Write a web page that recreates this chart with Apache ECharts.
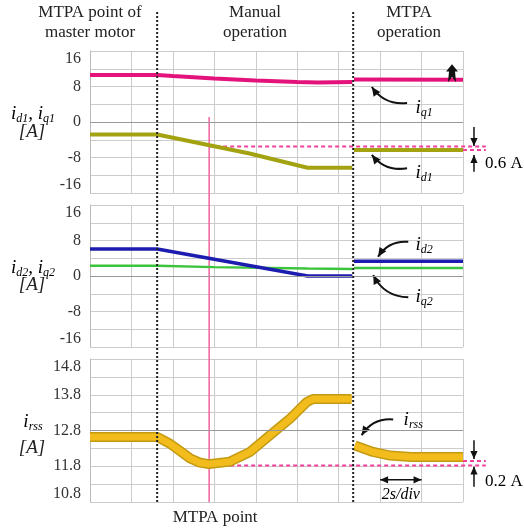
<!DOCTYPE html>
<html>
<head>
<meta charset="utf-8">
<script src="https://cdn.jsdelivr.net/npm/echarts/dist/echarts.min.js"></script>
<style>
  html, body { margin: 0; padding: 0; background: #fff; }
  #chart { width: 524px; height: 532px; }
</style>
</head>
<body>
<div id="chart"></div>
<script>
// time in seconds (2 s/div, 9 divisions shown)
const tMaster = 3.24;  // end of "MTPA point of master motor"
const tMtpa = 12.7;    // start of "MTPA operation"
const tPoint = 5.75;   // MTPA point

// a null value marks the switch-over gap at tMtpa
const iq1 = [[0, 10.6], [3.24, 10.6], [4, 10.35], [6, 9.8], [8, 9.35], [10, 9.0], [11, 8.9], [12.66, 9.0], [12.7, null], [12.74, 9.6], [18, 9.5]];
const id1 = [[0, -2.8], [3.24, -2.8], [7.7, -7.1], [10.5, -10.3], [12.66, -10.3], [12.7, null], [12.74, -6.3], [18, -6.3]];
const id2 = [[0, 6.1], [3.24, 6.1], [10.5, 0], [12.66, 0], [12.7, null], [12.74, 3.3], [18, 3.3]];
const iq2 = [[0, 2.3], [3.24, 2.3], [6, 2.0], [10.5, 1.7], [12.66, 1.6], [12.7, null], [12.74, 1.8], [18, 1.8]];
const irss = [[0, 12.62], [3.24, 12.62], [3.86, 12.43], [4.34, 12.23], [4.83, 12.02], [5.3, 11.9], [5.74, 11.86],
  [6.76, 11.93], [7.72, 12.2], [8.69, 12.67], [9.65, 13.13], [10.47, 13.6], [10.76, 13.68], [12.62, 13.68],
  [12.7, null], [12.78, 12.38], [13.66, 12.2], [14.48, 12.1], [15.5, 12.06], [18, 12.06]];

const ticksI = [16, 8, 0, -8, -16];
const ticksRss = [14.8, 13.8, 12.8, 11.8, 10.8];

// dashed reference levels: [panel, from t, to t, value]
const refLines = [[0, tPoint, 19.1, -5.5], [0, 18, 19.1, -6.3], [2, tPoint, 19.1, 11.82], [2, 18, 19.1, 11.95]];

// curved pointer arrows: [panel, tail, tip, curveness]
const pointers = [
  [0, [15.3, 4.3], [13.6, 7.9], 0.3],
  [0, [15.3, -10.4], [13.6, -7.4], 0.3],
  [1, [15.36, 7.7], [13.9, 4.35], -0.3],
  [1, [15.36, -4.8], [13.67, 0.2], 0.3],
  [2, [14.63, 13.11], [13.11, 12.67], -0.3]
];
// straight arrows: [panel, tail, tip, double]
const straight = [
  [0, [18.53, -1.1], [18.53, -5.4], false],
  [0, [18.53, -11.2], [18.53, -7.45], false],
  [2, [18.53, 12.53], [18.53, 12.0], false],
  [2, [18.53, 11.23], [18.53, 11.79], false],
  [2, [14, 11.42], [16, 11.42], true]
];
// labels tied to data: [panel, t, value, rich text, align]
const curveLabels = [
  [0, 16.12, 3.1, '{i|i}{s|q1}', 'center'],
  [0, 16.12, -11.5, '{i|i}{s|d1}', 'center'],
  [1, 16.12, 7.0, '{i|i}{s|d2}', 'center'],
  [1, 16.12, -4.7, '{i|i}{s|q2}', 'center'],
  [2, 15.6, 13.09, '{i|i}{s|rss}', 'center'],
  [0, 19.06, -9.25, '{n|0.6 A}', 'left'],
  [2, 19.06, 11.36, '{n|0.2 A}', 'left'],
  [2, 15.0, 11.0, '{e|2s/div}', 'center']
];

const serif = '"Liberation Serif", "DejaVu Serif", serif';
const rich = {
  i: { fontFamily: serif, fontStyle: 'italic', fontSize: 19, lineHeight: 22, verticalAlign: 'middle', color: '#222' },
  s: { fontFamily: serif, fontStyle: 'italic', fontSize: 12, lineHeight: 12, verticalAlign: 'bottom', color: '#222' },
  n: { fontFamily: serif, fontSize: 17, lineHeight: 22, color: '#222' },
  e: { fontFamily: serif, fontStyle: 'italic', fontSize: 16, lineHeight: 22, color: '#222' }
};

const grids = [
  { left: 90, right: 61, top: 51, height: 142 },
  { left: 90, right: 61, top: 205, height: 142 },
  { left: 90, right: 61, top: 359, height: 143 }
];
const yRanges = [[-16, 16, 4, ticksI], [-16, 16, 4, ticksI], [10.8, 14.8, 0.5, ticksRss]];

const option = {
  animation: false,
  backgroundColor: '#fff',
  grid: grids,
  xAxis: grids.map((g, i) => ({
    type: 'value', gridIndex: i, min: 0, max: 18, interval: 2,
    axisLine: { show: false }, axisTick: { show: false }, axisLabel: { show: false },
    splitLine: { show: true, lineStyle: { color: '#cccccc', width: 1 } }
  })),
  yAxis: yRanges.map((r, i) => ({
    type: 'value', gridIndex: i, min: r[0], max: r[1], interval: r[2],
    axisLine: { show: true, lineStyle: { color: '#bbbbbb' } },
    axisTick: { show: false },
    splitLine: { show: true, lineStyle: { color: '#cccccc', width: 1 } },
    axisLabel: {
      fontFamily: serif, fontSize: 16, color: '#333', margin: 9,
      verticalAlignMaxLabel: 'top', verticalAlignMinLabel: 'bottom',
      formatter: v => r[3].some(t => Math.abs(t - v) < 1e-6) ? (i === 2 ? v.toFixed(1) : String(v)) : ''
    }
  })),
  series: [
    {
      name: 'iq1', type: 'line', xAxisIndex: 0, yAxisIndex: 0, data: iq1, showSymbol: false,
      lineStyle: { color: '#e4137b', width: 4 },
      markPoint: {
        silent: true, symbol: 'path://M6,0 L12,8 L9,8 L10,20 L6,14 L2,20 L3,8 L0,8 Z', symbolSize: [12, 18],
        itemStyle: { color: '#111' }, label: { show: false },
        data: [{ coord: [17.47, 11.0] }]
      }
    },
    {
      name: 'id1', type: 'line', xAxisIndex: 0, yAxisIndex: 0, data: id1, showSymbol: false,
      lineStyle: { color: '#a3a312', width: 4 },
      markLine: { silent: true, symbol: 'none', label: { show: false }, lineStyle: { color: '#999', type: 'solid', width: 1 }, data: [{ yAxis: 0 }] }
    },
    {
      name: 'iq2', type: 'line', xAxisIndex: 1, yAxisIndex: 1, data: iq2, showSymbol: false,
      lineStyle: { color: '#3cc43c', width: 2.5 },
      markLine: { silent: true, symbol: 'none', label: { show: false }, lineStyle: { color: '#999', type: 'solid', width: 1 }, data: [{ yAxis: 0 }] }
    },
    {
      name: 'id2', type: 'line', xAxisIndex: 1, yAxisIndex: 1, data: id2, showSymbol: false,
      lineStyle: { color: '#1c1cb0', width: 3.5 }
    },
    {
      name: 'irssEdge', type: 'line', xAxisIndex: 2, yAxisIndex: 2, data: irss, showSymbol: false,
      lineStyle: { color: '#c49a10', width: 10 },
      markLine: { silent: true, symbol: 'none', label: { show: false }, lineStyle: { color: '#999', type: 'solid', width: 1 }, data: [{ yAxis: 12.8 }] }
    },
    {
      name: 'irss', type: 'line', xAxisIndex: 2, yAxisIndex: 2, data: irss, showSymbol: false,
      lineStyle: { color: '#f2bc1c', width: 7 }
    }
  ]
};

const chart = echarts.init(document.getElementById('chart'));
chart.setOption(option);

const toPx = (g, p) => chart.convertToPixel({ xAxisIndex: g, yAxisIndex: g }, p);
const ink = '#111';
const gfx = [];

function head(tip, from, size) {
  const dx = tip[0] - from[0], dy = tip[1] - from[1];
  const len = Math.hypot(dx, dy);
  const ux = dx / len, uy = dy / len;
  const bx = tip[0] - ux * size, by = tip[1] - uy * size;
  return {
    type: 'polygon', silent: true,
    shape: { points: [tip, [bx - uy * size * 0.45, by + ux * size * 0.45], [bx + uy * size * 0.45, by - ux * size * 0.45]] },
    style: { fill: ink }
  };
}

// phase boundaries (dotted) and MTPA point (pink)
[tMaster, tMtpa].forEach(t => {
  const x = toPx(0, [t, 0])[0];
  gfx.push({ type: 'line', silent: true, z: 10, shape: { x1: x, y1: 12, x2: x, y2: 504 }, style: { stroke: '#222', lineWidth: 2, lineDash: [2, 2] } });
});
{
  const top = toPx(0, [tPoint, 1.1]);
  const bot = toPx(2, [tPoint, 10.8]);
  gfx.push({ type: 'line', silent: true, shape: { x1: top[0], y1: top[1], x2: bot[0], y2: bot[1] }, style: { stroke: '#f2609f', lineWidth: 1.5 } });
  gfx.push({ type: 'text', silent: true, x: bot[0] + 6, y: 518, style: { text: 'MTPA point', fontFamily: serif, fontSize: 17, fill: '#222', align: 'center', verticalAlign: 'middle' } });
}

refLines.forEach(([g, t0, t1, v]) => {
  const a = toPx(g, [t0, v]), b = toPx(g, [t1, v]);
  gfx.push({ type: 'line', silent: true, shape: { x1: a[0], y1: a[1], x2: b[0], y2: b[1] }, style: { stroke: '#f2409c', lineWidth: 2, lineDash: [4, 3] } });
});

pointers.forEach(([g, p0, p1, c]) => {
  const a = toPx(g, p0), b = toPx(g, p1);
  const cp = [(a[0] + b[0]) / 2 - (a[1] - b[1]) * c, (a[1] + b[1]) / 2 - (b[0] - a[0]) * c];
  gfx.push({ type: 'bezierCurve', silent: true, shape: { x1: a[0], y1: a[1], x2: b[0], y2: b[1], cpx1: cp[0], cpy1: cp[1] }, style: { stroke: ink, lineWidth: 2, fill: 'none' } });
  gfx.push(head(b, cp, 9));
});

straight.forEach(([g, p0, p1, both]) => {
  const a = toPx(g, p0), b = toPx(g, p1);
  gfx.push({ type: 'line', silent: true, shape: { x1: a[0], y1: a[1], x2: b[0], y2: b[1] }, style: { stroke: ink, lineWidth: 1.5 } });
  gfx.push(head(b, a, 8));
  if (both) gfx.push(head(a, b, 8));
});

curveLabels.forEach(([g, t, v, txt, align]) => {
  const p = toPx(g, [t, v]);
  gfx.push({ type: 'text', silent: true, x: p[0], y: p[1], style: { text: txt, rich: rich, align: align, verticalAlign: 'middle' } });
});

// phase titles
[['MTPA point of\nmaster motor', 90], ['Manual\noperation', 255], ['MTPA\noperation', 409]].forEach(([txt, x]) => {
  gfx.push({ type: 'text', silent: true, x: x, y: 23, style: { text: txt, fontFamily: serif, fontSize: 17, lineHeight: 20, fill: '#222', align: 'center', verticalAlign: 'middle' } });
});

// axis names
[['{i|i}{s|d1}{i|, i}{s|q1}', 114, 132], ['{i|i}{s|d2}{i|, i}{s|q2}', 268, 285], ['{i|i}{s|rss}', 422, 448]].forEach(([txt, y1, y2]) => {
  gfx.push({ type: 'text', silent: true, x: 33, y: y1, style: { text: txt, rich: rich, align: 'center', verticalAlign: 'middle' } });
  gfx.push({ type: 'text', silent: true, x: 32, y: y2, style: { text: '[A]', fontFamily: serif, fontStyle: 'italic', fontSize: 19, fill: '#222', align: 'center', verticalAlign: 'middle' } });
});

chart.setOption({ graphic: gfx });
</script>
</body>
</html>
